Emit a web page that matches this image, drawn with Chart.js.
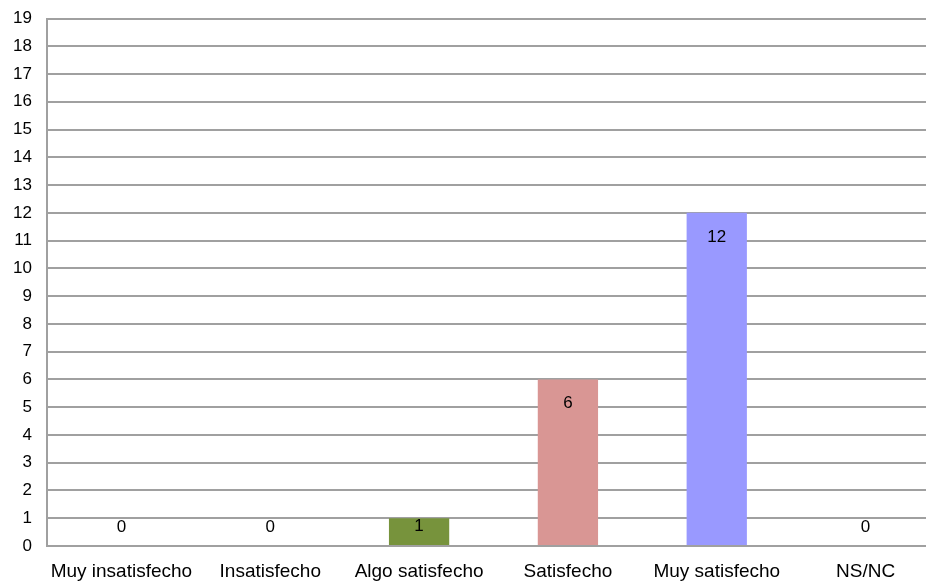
<!DOCTYPE html>
<html>
<head>
<meta charset="utf-8">
<script src="https://cdn.jsdelivr.net/npm/chart.js@4"></script>
<style>
  html, body { margin: 0; padding: 0; background: #fff; overflow: hidden; }
  #wrap { width: 926px; height: 581px; overflow: hidden; }
</style>
</head>
<body>
<div id="wrap"><canvas id="c" width="940" height="581"></canvas></div>
<script>
const categories = ['Muy insatisfecho', 'Insatisfecho', 'Algo satisfecho', 'Satisfecho', 'Muy satisfecho', 'NS/NC'];
const values = [0, 0, 1, 6, 12, 0];
const barColors = ['#77933C', '#77933C', '#77933C', '#D99694', '#9999FF', '#9999FF'];
const yMax = 19;

const fontFam = '"Liberation Sans", Arial, sans-serif';

// etiquetas de valor dentro de la barra, como en Excel
const valueLabels = {
  id: 'valueLabels',
  afterDatasetsDraw(chart) {
    const ctx = chart.ctx;
    const meta = chart.getDatasetMeta(0);
    ctx.save();
    ctx.font = '17px ' + fontFam;
    ctx.fillStyle = '#000';
    ctx.textAlign = 'center';
    ctx.textBaseline = 'middle';
    meta.data.forEach((bar, i) => {
      const y = Math.min(bar.y + 24, bar.base - 19);
      ctx.fillText(String(values[i]), bar.x, y);
    });
    ctx.restore();
  }
};

const chart = new Chart(document.getElementById('c'), {
  type: 'bar',
  data: {
    labels: categories,
    datasets: [{
      data: values,
      backgroundColor: barColors,
      borderWidth: 0,
      barPercentage: 0.405,
      categoryPercentage: 1
    }]
  },
  options: {
    responsive: false,
    animation: false,
    devicePixelRatio: 1,
    layout: { padding: { top: 18.5, left: 0, right: 0, bottom: 0 } },
    plugins: { legend: { display: false }, tooltip: { enabled: false } },
    scales: {
      x: {
        grid: { display: false },
        border: { display: false },
        ticks: {
          color: '#000',
          font: { family: fontFam, size: 19 },
          padding: 6,
          maxRotation: 0,
          autoSkip: false
        },
        afterFit(scale) {
          scale.height = 35;
          scale.paddingLeft = 0;
          scale.paddingRight = 0;
        }
      },
      y: {
        min: 0,
        max: yMax,
        grid: { color: '#a0a0a0', lineWidth: 2, drawTicks: false },
        border: { display: true, color: '#a0a0a0', width: 2 },
        ticks: {
          stepSize: 1,
          color: '#000',
          font: { family: fontFam, size: 17 },
          padding: 15
        },
        afterFit(scale) {
          scale.width = 47;
          scale.paddingTop = 0;
          scale.paddingBottom = 0;
        }
      }
    }
  },
  plugins: [valueLabels]
});
</script>
</body>
</html>
